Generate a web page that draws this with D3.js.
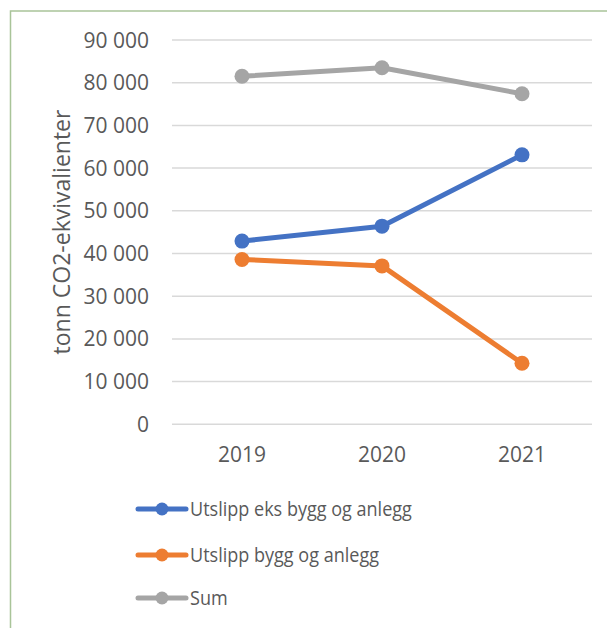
<!DOCTYPE html>
<html>
<head>
<meta charset="utf-8">
<script src="https://cdn.jsdelivr.net/npm/d3@7"></script>
<style>
  body { margin: 0; background: #fff; }
  text { font-family: "Open Sans", "Noto Sans", sans-serif; fill: #595959; }
</style>
</head>
<body>
<div id="chart"></div>
<script>
// values
let years = ['2019', '2020', '2021'];
let utslippEks = [42900, 46400, 63100];
let utslippBygg = [38600, 37100, 14300];
let sumValues = [81500, 83500, 77400];
let yTicks = [0, 10000, 20000, 30000, 40000, 50000, 60000, 70000, 80000, 90000];

let series = [
  {name: 'Utslipp eks bygg og anlegg', values: utslippEks, color: '#4472C4'},
  {name: 'Utslipp bygg og anlegg', values: utslippBygg, color: '#ED7D31'},
  {name: 'Sum', values: sumValues, color: '#A5A5A5'}
];

const width = 607, height = 628;
const plot = {left: 172, right: 592, top: 40, bottom: 424.3};

const fmt = d3.formatLocale({decimal: ',', thousands: ' ', grouping: [3], currency: ['', '']}).format(',d');

let svg = d3.select('#chart').append('svg')
  .attr('width', width)
  .attr('height', height);

// chart frame
svg.append('rect')
  .attr('x', 10.5).attr('y', 11)
  .attr('width', 640).attr('height', 660)
  .attr('fill', 'none')
  .attr('stroke', '#a9c499')
  .attr('stroke-width', 1.5);

let x = d3.scaleBand().domain(years).range([plot.left, plot.right]).padding(0);
let y = d3.scaleLinear().domain([0, 90000]).range([plot.bottom, plot.top]);
let cx = d => x(d) + x.bandwidth() / 2;

// gridlines
svg.append('g').selectAll('line')
  .data(yTicks)
  .enter().append('line')
  .attr('x1', plot.left).attr('x2', plot.right)
  .attr('y1', d => y(d)).attr('y2', d => y(d))
  .attr('stroke', '#d9d9d9')
  .attr('stroke-width', 1.5);

// y tick labels
svg.append('g').selectAll('text')
  .data(yTicks)
  .enter().append('text')
  .attr('x', 149)
  .attr('y', d => y(d) + 7.5)
  .attr('text-anchor', 'end')
  .style('font-size', '21px')
  .text(d => fmt(d));

// x labels
svg.append('g').selectAll('text')
  .data(years)
  .enter().append('text')
  .attr('x', d => cx(d))
  .attr('y', 462)
  .attr('text-anchor', 'middle')
  .style('font-size', '21px')
  .text(d => d);

// y axis title
svg.append('text')
  .attr('transform', 'translate(70,232) rotate(-90)')
  .attr('text-anchor', 'middle')
  .style('font-size', '23px')
  .text('tonn CO2-ekvivalienter');

let line = d3.line()
  .x((d, i) => cx(years[i]))
  .y(d => y(d));

let sgroup = svg.selectAll('g.series')
  .data(series.slice().reverse())
  .enter().append('g').attr('class', 'series');

sgroup.append('path')
  .attr('d', d => line(d.values))
  .attr('fill', 'none')
  .attr('stroke', d => d.color)
  .attr('stroke-width', 5)
  .attr('stroke-linejoin', 'round');

sgroup.selectAll('circle')
  .data(d => d.values.map(v => ({v: v, color: d.color})))
  .enter().append('circle')
  .attr('cx', (d, i) => cx(years[i]))
  .attr('cy', d => y(d.v))
  .attr('r', 7.5)
  .attr('fill', d => d.color);

// legend
let legendY = [509, 555, 598];
let legend = svg.selectAll('g.legend')
  .data(series)
  .enter().append('g')
  .attr('class', 'legend')
  .attr('transform', (d, i) => `translate(0,${legendY[i]})`);

legend.append('line')
  .attr('x1', 138).attr('x2', 186)
  .attr('stroke', d => d.color)
  .attr('stroke-width', 5)
  .attr('stroke-linecap', 'round');

legend.append('circle')
  .attr('cx', 162).attr('r', 6.5)
  .attr('fill', d => d.color);

// calibri-ish narrow text
legend.append('text')
  .attr('transform', 'translate(190,6.5) scale(0.88,1)')
  .style('font-size', '20.5px')
  .text(d => d.name);
</script>
</body>
</html>
